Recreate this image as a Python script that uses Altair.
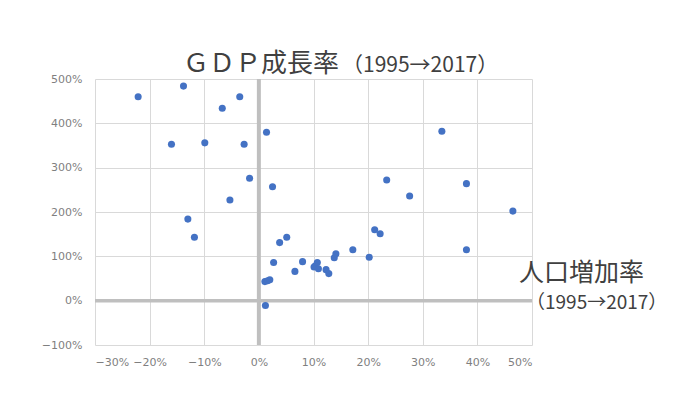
import altair as alt
import pandas as pd

# Population growth rate (1995->2017), fraction
pop_growth = [-0.221, -0.138, -0.160, -0.099, -0.067, -0.035, -0.027, -0.017, -0.053, -0.130,
              -0.118, 0.014, 0.025, 0.038, 0.051, 0.027, 0.011, 0.016, 0.020, 0.012,
              0.066, 0.080, 0.101, 0.103, 0.107, 0.109, 0.123, 0.128, 0.138, 0.141,
              0.172, 0.202, 0.212, 0.222, 0.234, 0.276, 0.335, 0.380, 0.380, 0.465]
# GDP growth rate (1995->2017), fraction
gdp_growth = [4.60, 4.84, 3.53, 3.56, 4.34, 4.60, 3.53, 2.76, 2.27, 1.84,
              1.43, 3.80, 2.57, 1.31, 1.43, 0.86, 0.43, 0.45, 0.47, -0.11,
              0.66, 0.88, 0.76, 0.78, 0.86, 0.72, 0.70, 0.61, 0.97, 1.06,
              1.15, 0.98, 1.60, 1.51, 2.72, 2.36, 3.82, 2.64, 1.15, 2.02]

x_ticks = [-0.3, -0.2, -0.1, 0.0, 0.1, 0.2, 0.3, 0.4, 0.5]
y_ticks = [-1, 0, 1, 2, 3, 4, 5]

df = pd.DataFrame({"pop": pop_growth, "gdp": gdp_growth})

FONT = "Noto Sans CJK JP"
LABEL_FONT = "DejaVu Sans"
LABEL_COLOR = "#7f7f7f"
TEXT_COLOR = "#404040"

xscale = alt.Scale(domain=[-0.3, 0.5], nice=False, zero=False)
yscale = alt.Scale(domain=[-1, 5], nice=False, zero=False)

points = alt.Chart(df).mark_circle(size=50, color="#4472C4", opacity=1).encode(
    x=alt.X("pop:Q", scale=xscale,
            axis=alt.Axis(values=x_ticks, format=".0%", title=None, domain=False, ticks=False,
                          grid=True, gridColor="#d9d9d9", gridWidth=1,
                          labelFont=LABEL_FONT, labelFontSize=11, labelColor=LABEL_COLOR,
                          labelPadding=11)),
    y=alt.Y("gdp:Q", scale=yscale,
            axis=alt.Axis(values=y_ticks, format=".0%", title=None, domain=False, ticks=False,
                          grid=True, gridColor="#d9d9d9", gridWidth=1,
                          labelFont=LABEL_FONT, labelFontSize=11, labelColor=LABEL_COLOR,
                          labelPadding=13)),
)

zero_df = pd.DataFrame({"v": [0]})
vline = alt.Chart(zero_df).mark_rule(color="#bfbfbf", strokeWidth=4).encode(
    x=alt.X("v:Q", scale=xscale))
hline = alt.Chart(zero_df).mark_rule(color="#bfbfbf", strokeWidth=3.5).encode(
    y=alt.Y("v:Q", scale=yscale))

title_main = alt.Chart(pd.DataFrame({"t": ["ＧＤＰ成長率"]})).mark_text(
    font=FONT, fontSize=26, align="left", baseline="alphabetic", color=TEXT_COLOR
).encode(x=alt.value(88), y=alt.value(-7), text="t:N")
title_sub = alt.Chart(pd.DataFrame({"t": ["（1995→2017）"]})).mark_text(
    font=FONT, fontSize=21, align="left", baseline="alphabetic", color=TEXT_COLOR
).encode(x=alt.value(247), y=alt.value(-7), text="t:N")

xt_main = alt.Chart(pd.DataFrame({"t": ["人口増加率"]})).mark_text(
    font=FONT, fontSize=25, align="left", baseline="alphabetic", color=TEXT_COLOR
).encode(x=alt.value(424), y=alt.value(202), text="t:N")
xt_sub = alt.Chart(pd.DataFrame({"t": ["（1995→2017）"]})).mark_text(
    font=FONT, fontSize=19, align="left", baseline="alphabetic", color=TEXT_COLOR
).encode(x=alt.value(431), y=alt.value(230), text="t:N")

chart = alt.layer(vline, hline, points, title_main, title_sub, xt_main, xt_sub).properties(
    width=437, height=266,
    autosize=alt.AutoSizeParams(type="none"),
    padding={"left": 87, "top": 71, "right": 142, "bottom": 48},
    background="white",
).configure_view(stroke=None)

chart.save("out.html", embed_options={"renderer": "svg", "actions": False})
